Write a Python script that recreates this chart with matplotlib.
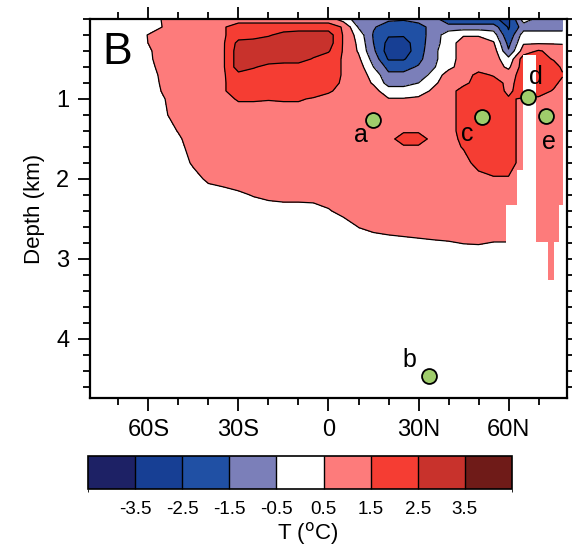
import numpy as np
import matplotlib
matplotlib.use("Agg")
import matplotlib.pyplot as plt
from matplotlib.cm import ScalarMappable
from matplotlib.colors import BoundaryNorm, ListedColormap
from matplotlib.ticker import MultipleLocator

plt.rcParams["font.family"] = ["Liberation Sans", "DejaVu Sans"]
plt.rcParams["axes.unicode_minus"] = False

# temperature anomaly section, latitude x depth
lat = [-80, -75, -70, -65, -60, -55, -50, -45, -40, -35,
       -30, -25, -20, -15, -10, -5, 0, 5, 10, 15,
       20, 25, 30, 35, 40, 45, 50, 55, 60, 65,
       70, 75, 78]
depth = [0.0, 0.1, 0.2, 0.3, 0.4, 0.5, 0.6, 0.7, 0.8, 0.9, 1.0,
         1.2, 1.4, 1.5, 1.6, 1.8, 2.0, 2.2, 2.4, 2.6, 2.8, 3.0]

temp = [
    [0, 0, 0, 0, 0, 0.6, 1, 1, 1, 1,
     1, 1, 1, 1, 1, 1, 1, 0, -1, -1,
     -1.3, -1.4, -1.2, -1, -2.4, -2.4, -2.4, -2.4, -2.7, 0,
     -0.8, -1, -1],
    [0, 0, 0, 0, 0, 0.55, 1, 1, 1, 1.4,
     2, 2, 2, 2, 2, 2, 2, 1.4, -0.6, -1.4,
     -2, -2, -1.8, -1.2, -1, -1, -1, -1, -2.6, -1,
     -1, -1, -1],
    [0, 0, 0, 0, 0.55, 1, 1, 1, 1, 1.4,
     2, 2, 2.4, 2.8, 3, 3, 3, 1.4, 0.1, -1.6,
     -2.4, -2.4, -2, -1, 0, 0.4, 0.4, 0, -2.3, 0,
     0, 0, 0],
    [0, 0, 0, 0, 0.52, 1, 1, 1, 1, 1.4,
     2.8, 3, 3, 3, 3, 3, 3, 1.4, 0.3, -1.5,
     -2.8, -2.9, -2, -0.9, 0, 1, 1, 0.6, -1.8, 0.4,
     0.4, 0.4, 0.4],
    [0, 0, 0, 0, 0.35, 1, 1, 1, 1, 1.4,
     3, 3, 3, 3, 3, 3, 2.6, 1.4, 0.4, -1.3,
     -3, -3, -2, -0.7, 0, 1, 1, 1, -1.4, 1,
     1.6, 1.2, 1],
    [0, 0, 0, 0, 0.3, 1, 1, 1, 1, 1.4,
     3, 3, 3, 3, 3, 2.4, 2, 1.4, 0.7, -0.9,
     -2.6, -2.6, -1.8, -0.7, 0, 1, 1, 1, -0.2, 2,
     2, 1.4, 1],
    [0, 0, 0, 0, 0.1, 1, 1, 1, 1, 1.4,
     3, 2.6, 2.2, 2, 2, 2, 2, 1.4, 1, -0.5,
     -1.8, -1.8, -1.4, -0.6, 0.2, 1, 1, 1, 0.3, 2,
     2, 2, 1.3],
    [0, 0, 0, 0, 0, 0.8, 1, 1, 1, 1.4,
     2.2, 2, 2, 2, 2, 2, 2, 1.4, 1, 0.15,
     -1.3, -1.3, -1, -0.2, 1, 1, 1.8, 1.4, 1, 2,
     2, 2, 1.6],
    [0, 0, 0, 0, 0, 0.7, 1, 1, 1, 1.4,
     2, 2, 2, 2, 2, 2, 2, 1.3, 1, 0.4,
     -0.9, -0.9, -0.5, 0.3, 1, 1.2, 2, 2, 1.2, 2,
     2, 1.8, 1.2],
    [0, 0, 0, 0, 0, 0.6, 1, 1, 1, 1.4,
     2, 2, 2, 2, 2, 2, 1.7, 1, 1, 0.8,
     0, 0, 0, 0.7, 1, 2, 2, 2, 1.3, 2,
     2, 1.4, 1],
    [0, 0, 0, 0, 0, 0.44, 1, 1, 1, 1.2,
     1.6, 1.6, 1.55, 1.6, 1.6, 1.4, 1, 1, 1, 1,
     0.55, 0.55, 0.7, 1, 1, 2, 2, 2, 1.6, 1.4,
     1.3, 1, 1],
    [0, 0, 0, 0, 0, 0.3, 1, 1, 1, 1,
     1, 1, 1, 1, 1, 1, 1, 1, 1, 1,
     1, 1, 1, 1, 1, 2, 2, 2, 2, 1,
     1, 1, 1],
    [0, 0, 0, 0, 0, 0, 0.56, 1, 1, 1,
     1, 1, 1, 1, 1, 1, 1, 1, 1, 1,
     1, 1.3, 1.3, 1, 1, 2, 2, 2, 2, 1,
     1, 1, 1],
    [0, 0, 0, 0, 0, 0, 0.35, 1, 1, 1,
     1, 1, 1, 1, 1, 1, 1, 1, 1, 1,
     1, 2.2, 2.2, 1, 1, 1.8, 2, 2, 2, 1,
     1, 1, 1],
    [0, 0, 0, 0, 0, 0, 0.15, 1, 1, 1,
     1, 1, 1, 1, 1, 1, 1, 1, 1, 1,
     1, 1.3, 1.3, 1, 1, 1.6, 2, 2, 2, 1,
     1, 1, 1],
    [0, 0, 0, 0, 0, 0, 0, 0.65, 1, 1,
     1, 1, 1, 1, 1, 1, 1, 1, 1, 1,
     1, 1, 1, 1, 1, 1, 2, 2, 2, 1,
     1, 1, 1],
    [0, 0, 0, 0, 0, 0, 0, 0.15, 0.7, 1,
     1, 1, 1, 1, 1, 1, 1, 1, 1, 1,
     1, 1, 1, 1, 1, 1, 1, 1.4, 1.4, 1,
     1, 1, 1],
    [0, 0, 0, 0, 0, 0, 0, 0, 0, 0,
     0.33, 0.56, 0.77, 0.91, 0.91, 1, 1, 1, 1, 1,
     1, 1, 1, 1, 1, 1, 1, 1, 1, 1,
     1, 1, 1],
    [0, 0, 0, 0, 0, 0, 0, 0, 0, 0,
     0, 0, 0, 0, 0, 0, 0.41, 0.83, 1, 1,
     1, 1, 1, 1, 1, 1, 1, 1, 1, 1,
     1, 1, 1],
    [0, 0, 0, 0, 0, 0, 0, 0, 0, 0,
     0, 0, 0, 0, 0, 0, 0, 0, 0.52, 0.77,
     1, 1, 1, 1, 1, 1, 1, 1, 1, 1,
     1, 1, 1],
    [0, 0, 0, 0, 0, 0, 0, 0, 0, 0,
     0, 0, 0, 0, 0, 0, 0, 0, 0, 0,
     0, 0.17, 0.29, 0.38, 0.44, 0.53, 0.56, 0.47, 0.47, 0.47,
     0.47, 0.47, 0.47],
    [0] * 33,
]

# blocky high-latitude cells (no contouring there): 0 = empty, 1 = warm, nan = leave as is
cell_lat = [59.3, 62.7, 64.7, 69.0, 73.3, 75.0, 76.7, 78.0]
cell_depth = [0.45, 1.89, 2.33, 2.79, 3.26]
cell_temp = [
    [np.nan, np.nan, 0, np.nan, np.nan, np.nan, np.nan],
    [np.nan, 0, 0, np.nan, np.nan, np.nan, np.nan],
    [0, 0, 0, 1, 1, 1, 0],
    [0, 0, 0, 0, 1, 0, 0],
]

# core sites
site_names = ["a", "b", "c", "d", "e"]
site_lat = [14.9, 33.4, 51.2, 66.4, 72.6]
site_depth = [1.26, 4.47, 1.23, 0.98, 1.21]
label_offsets = [(-9, -11), (-14, 12), (-11, -12), (6, 15), (2, -19)]

levels = [-4.5, -3.5, -2.5, -1.5, -0.5, 0.5, 1.5, 2.5, 3.5, 4.5]
colors = ["#1d2165", "#173f94", "#2050a4", "#7b7fb9", "#ffffff",
          "#fd7b7b", "#f53d33", "#c8322c", "#6f1b18"]
cmap = ListedColormap(colors)
norm = BoundaryNorm(levels, cmap.N)

fig = plt.figure(figsize=(5.72, 5.48), dpi=100)
ax = fig.add_axes([0.1573, 0.2737, 0.834, 0.6916])

ax.contourf(lat, depth, temp, levels=levels, cmap=cmap, norm=norm)
ax.contour(lat, depth, temp, levels=levels[1:-1], colors="k",
           linewidths=0.9, linestyles="solid")
ax.pcolormesh(cell_lat, cell_depth, np.ma.masked_invalid(cell_temp),
              cmap=cmap, norm=norm, shading="flat", antialiased=False,
              edgecolors="none", zorder=3)

ax.scatter(site_lat, site_depth, s=115, c="#9fcd6b", edgecolors="k",
           linewidths=1.3, zorder=5)
for name, x, y, off in zip(site_names, site_lat, site_depth, label_offsets):
    ax.annotate(name, (x, y), xytext=off, textcoords="offset points",
                ha="center", va="center", fontsize=18, zorder=6)

ax.text(0.027, 0.965, "B", transform=ax.transAxes, fontsize=32,
        ha="left", va="top")

ax.set_xlim(-79.5, 79.5)
ax.set_ylim(4.74, 0)
ax.set_xticks([-60, -30, 0, 30, 60])
ax.set_xticklabels(["60S", "30S", "0", "30N", "60N"])
ax.xaxis.set_minor_locator(MultipleLocator(10))
ax.set_yticks([1, 2, 3, 4])
ax.yaxis.set_minor_locator(MultipleLocator(0.2))
ax.tick_params(which="both", direction="out", top=True, right=True,
               width=1.3, labelsize=17)
ax.tick_params(which="major", length=9, pad=6)
ax.tick_params(which="minor", length=5)
ax.set_ylabel("Depth (km)", fontsize=16, labelpad=8)
for spine in ax.spines.values():
    spine.set_linewidth(1.6)

cax = fig.add_axes([0.1538, 0.1077, 0.7413, 0.0602])
cb = fig.colorbar(ScalarMappable(norm=norm, cmap=cmap), cax=cax,
                  orientation="horizontal", boundaries=levels,
                  ticks=levels[1:-1], drawedges=True)
cb.set_ticklabels([f"{v:g}" for v in levels[1:-1]])
cb.ax.tick_params(length=0, pad=9, labelsize=13.5)
cb.outline.set_linewidth(1.2)
cb.dividers.set_linewidth(1.0)
fig.text(0.538, 0.027, "T ($^{\\mathrm{o}}$C)", fontsize=16,
         ha="center", va="center")

fig.savefig("out.png", dpi=100)
